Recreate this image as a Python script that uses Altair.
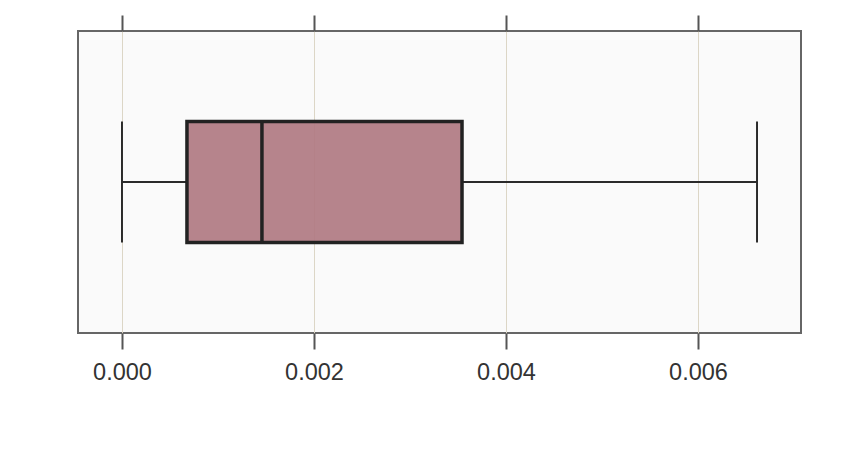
import altair as alt
import pandas as pd

# Box-plot summary values
category = ["A"]
whisker_low = [0.0]
q1 = [0.000677]
median = [0.001458]
q3 = [0.003542]
whisker_high = [0.006615]

tick_values = [0.000, 0.002, 0.004, 0.006]
x_domain = [-0.000458, 0.007073]

df = pd.DataFrame({
    "cat": category,
    "lo": whisker_low,
    "q1": q1,
    "med": median,
    "q3": q3,
    "hi": whisker_high,
})

xscale = alt.Scale(domain=x_domain, nice=False, zero=False)
yscale = alt.Scale(paddingOuter=0.748, paddingInner=0)
ynone = alt.Y("cat:N", scale=yscale, axis=None)

base = alt.Chart(df)

bottom_axis = alt.Axis(
    orient="bottom", values=tick_values, format=".3f", grid=True,
    gridColor="#dcd6c6", gridWidth=1, domain=False,
    tickColor="#555555", tickWidth=2, tickSize=16,
    labelFontSize=23.5, labelFont="Liberation Sans", labelColor="#333333",
    labelPadding=11, title=None,
)
top_axis = alt.Axis(
    orient="top", values=tick_values, labels=False, grid=False, domain=False,
    tickColor="#555555", tickWidth=2, tickSize=16, title=None,
)

whisker_l = base.mark_rule(color="#2a2a2a", strokeWidth=2).encode(
    x=alt.X("lo:Q", scale=xscale, axis=bottom_axis),
    x2="q1:Q",
    y=ynone,
)
whisker_r = base.mark_rule(color="#2a2a2a", strokeWidth=2).encode(
    x=alt.X("q3:Q", scale=xscale, axis=None),
    x2="hi:Q",
    y=ynone,
)
top_ticks = base.mark_rule(opacity=0).encode(
    x=alt.X("lo:Q", scale=xscale, axis=top_axis),
    y=ynone,
)
box = base.mark_rect(fill="#b07b83", fillOpacity=0.93, stroke="#222222", strokeWidth=3.5).encode(
    x=alt.X("q1:Q", scale=xscale, axis=None),
    x2="q3:Q",
    y=ynone,
)
med = base.mark_tick(color="#222222", opacity=1, thickness=3.5, size=121, orient="vertical").encode(
    x=alt.X("med:Q", scale=xscale, axis=None),
    y=ynone,
)
cap_lo = base.mark_tick(color="#2a2a2a", opacity=1, thickness=2, size=121, orient="vertical").encode(
    x=alt.X("lo:Q", scale=xscale, axis=None),
    y=ynone,
)
cap_hi = base.mark_tick(color="#2a2a2a", opacity=1, thickness=2, size=121, orient="vertical").encode(
    x=alt.X("hi:Q", scale=xscale, axis=None),
    y=ynone,
)

chart = alt.layer(whisker_l, whisker_r, top_ticks, box, med, cap_lo, cap_hi).resolve_axis(
    x="independent"
).properties(
    width=723, height=302,
    padding={"left": 70, "top": 23, "right": 40, "bottom": 80},
    autosize=alt.AutoSizeParams(type="none"),
    background="white",
).configure_view(
    fill="#fafafa", stroke="#666666", strokeWidth=2,
)

chart.save("out.html", embed_options={"renderer": "svg", "actions": False})
